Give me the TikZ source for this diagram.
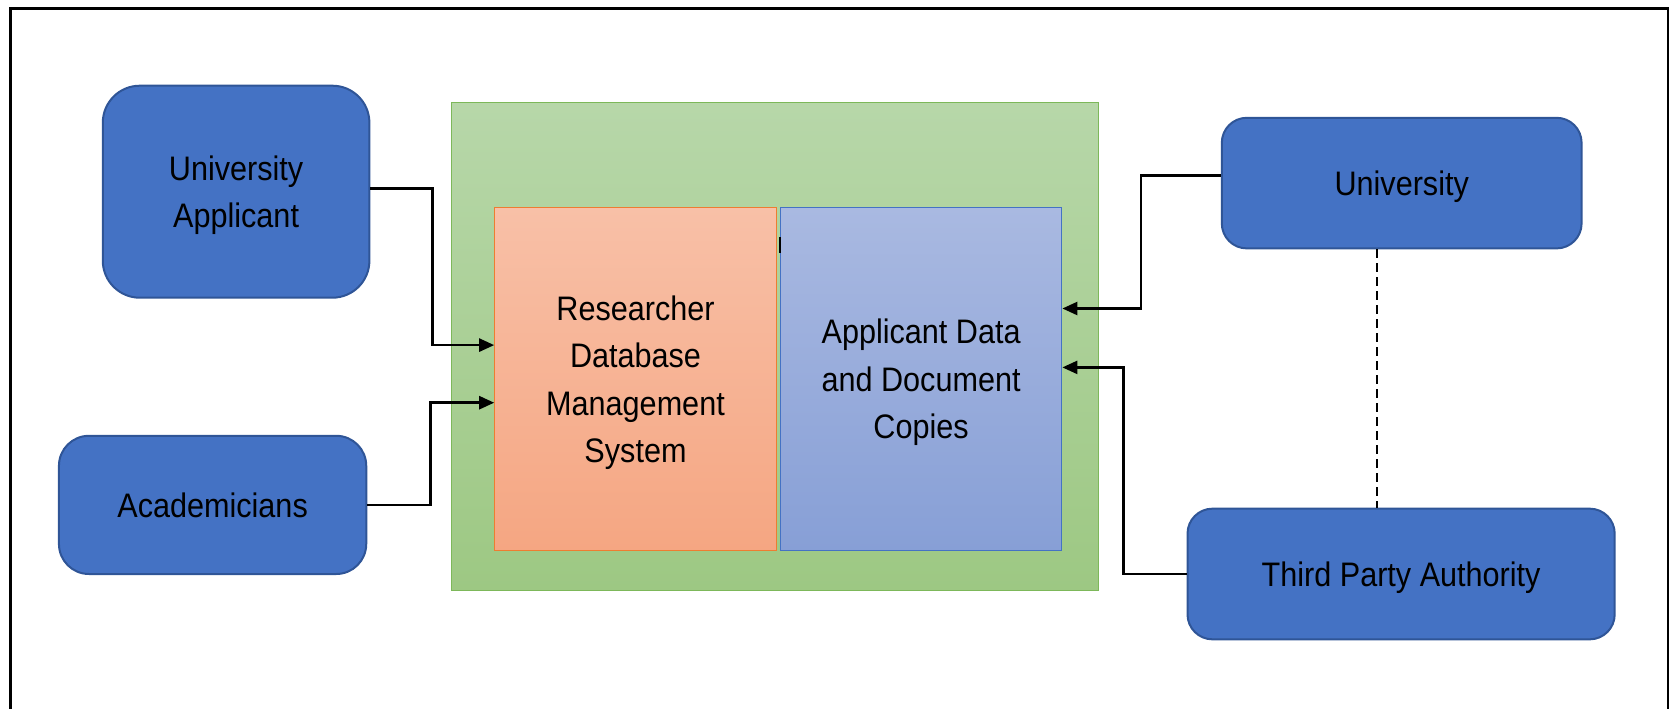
\documentclass[tikz,border=0pt]{standalone}
\usepackage{fontspec}
\setmainfont{Liberation Sans}[FakeStretch=0.9]
\usetikzlibrary{arrows.meta,positioning}
\definecolor{actorfill}{HTML}{4472C4}
\definecolor{actoredge}{HTML}{2F5597}
\definecolor{greentop}{HTML}{B7D7A9}
\definecolor{greenbot}{HTML}{9DC883}
\definecolor{greenedge}{HTML}{7DB85A}
\definecolor{orangetop}{HTML}{F8C0A7}
\definecolor{orangebot}{HTML}{F5A682}
\definecolor{orangeedge}{HTML}{ED7D31}
\definecolor{bluetop}{HTML}{A9B9E1}
\definecolor{bluebot}{HTML}{879FD6}
\definecolor{blueedge}{HTML}{4472C4}
\newcommand{\boxfont}{\fontsize{34}{47.5}\selectfont}
\tikzset{>={Triangle[length=15pt,width=13pt]},
	actor/.style={draw=actoredge, line width=2pt, fill=actorfill, rounded corners=#1,
		align=center, font=\boxfont, inner sep=0pt, text depth=0pt},
	store/.style 2 args={draw=#1edge, line width=1pt, top color=#1top, bottom color=#1bot,
		align=center, font=\boxfont, inner sep=0pt, text depth=0pt,
		minimum width=281.6pt, minimum height=342.7pt},
	flow/.style={->, line width=2.5pt}}

\begin{document}
\begin{tikzpicture}[x=1pt,y=-1pt]
	\useasboundingbox (0,0) rectangle (1679,709);
	\draw[line width=2.5pt] (10.7,712) -- (10.7,8.6) -- (1668,8.6) -- (1668,712);
	% system container
	\node[draw=greenedge, line width=1pt, top color=greentop, bottom color=greenbot,
		minimum width=646.7pt, minimum height=487.2pt, inner sep=0pt] (sys) at (775.3,346.4) {};
	\node[store={orange}{}] (rdbms) at (635.5,379.1) {Researcher\\Database\\Management\\System};
	\node[store={blue}{}, right=3pt of rdbms] (docs) {Applicant Data\\and Document\\Copies};
	\draw[line width=1.5pt] ([yshift=-30pt]docs.north west) -- ++(0,16);
	% actors
	\node[actor=37pt, minimum width=266.6pt, minimum height=212pt] (ua) at (236.1,191.7) {University\\Applicant};
	\node[actor=30pt, minimum width=307.3pt, minimum height=138.2pt] (acad) at (212.6,504.9) {Academicians};
	\node[actor=25pt, minimum width=359.8pt, minimum height=130.6pt] (univ) at (1401.7,183.1) {University};
	\node[actor=25pt, minimum width=427.2pt, minimum height=130.7pt] (tpa) at (1401.1,574) {Third Party Authority};
	% connectors
	\draw[flow] ([yshift=3pt]ua.east) -- ++(62,0) |- ([yshift=34pt]rdbms.west);
	\draw[flow] (acad.east) -- ++(63,0) |- ([yshift=-23.6pt]rdbms.west);
	\draw[flow] ([yshift=7.5pt]univ.west) -- ++(-80,0) |- ([yshift=70.6pt]docs.east);
	\draw[flow] (tpa.west) -- ++(-63,0) |- ([yshift=11.7pt]docs.east);
	\draw[line width=2pt, dash pattern=on 9pt off 5pt] ([xshift=-25pt]univ.south) -- ([xshift=-25pt]univ.south |- tpa.north);
\end{tikzpicture}
\end{document}
